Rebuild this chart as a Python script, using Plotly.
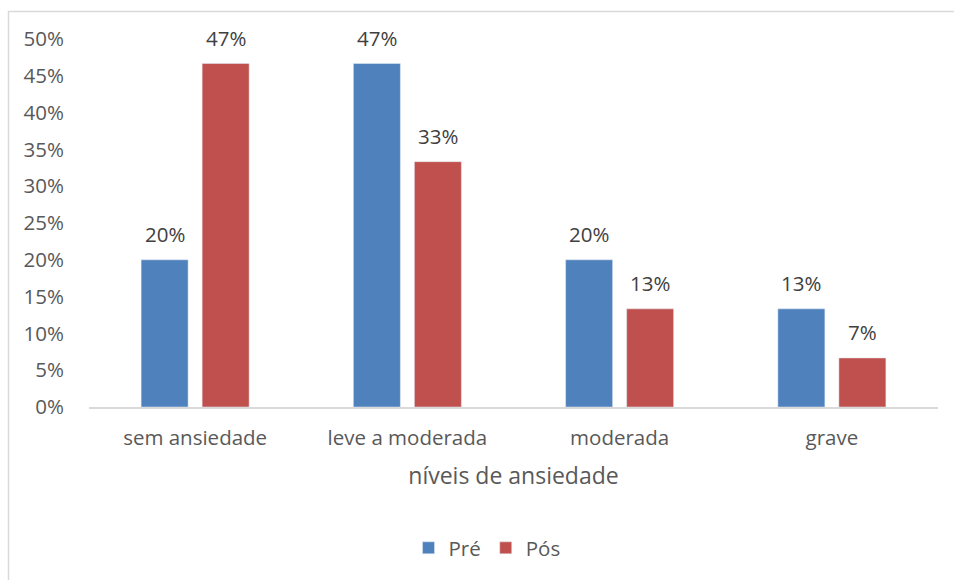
import plotly.graph_objects as go

categorias = ["sem ansiedade", "leve a moderada", "moderada", "grave"]
pre = [3 / 15, 7 / 15, 3 / 15, 2 / 15]
pos = [7 / 15, 5 / 15, 2 / 15, 1 / 15]
yticks = [0, 0.05, 0.10, 0.15, 0.20, 0.25, 0.30, 0.35, 0.40, 0.45, 0.50]

FONT = "Open Sans"
TXT = "#595959"
SZ = 20.5

fig = go.Figure()
fig.add_trace(go.Bar(name="Pré", x=categorias, y=pre, marker_color="#4F81BD"))
fig.add_trace(go.Bar(name="Pós", x=categorias, y=pos, marker_color="#C0504D"))

W, H = 954, 580
L, R, T, B = 89, 16, 39, 173
pw, ph = W - L - R, H - T - B

def px(xp):
    return (xp - L) / pw

def py(yp):
    return (H - B - yp) / ph

# value labels above each bar, offset to the bar's slot within its group
annotations = []
for vals, shift in ((pre, -30.5), (pos, 30.5)):
    for cat, v in zip(categorias, vals):
        annotations.append(dict(
            x=cat, y=v, xref="x", yref="y", text=f"{round(v * 100)}%",
            showarrow=False, xshift=shift, yshift=26, yanchor="middle",
            font=dict(size=SZ, color="#404040", family=FONT),
        ))

fig.update_layout(
    width=W, height=H,
    margin=dict(l=L, r=R, t=T, b=B),
    paper_bgcolor="white", plot_bgcolor="white",
    barmode="group", bargap=0.425, bargroupgap=0.23,
    font=dict(family=FONT, color=TXT, size=SZ),
    showlegend=True,
    legend=dict(orientation="h", x=px(487), xanchor="center", y=py(548), yanchor="middle",
                font=dict(size=SZ, color=TXT), itemwidth=30, traceorder="normal"),
    xaxis=dict(
        showgrid=False, showline=True, linecolor="#D9D9D9", linewidth=1.5,
        ticks="outside", ticklen=12, tickcolor="rgba(0,0,0,0)",
        tickfont=dict(size=SZ, color=TXT),
        title=dict(text="níveis de ansiedade", font=dict(size=23, color=TXT), standoff=18),
    ),
    yaxis=dict(
        range=[0, 0.5], tickvals=yticks, tickformat=".0%",
        showgrid=False, showline=False, zeroline=False,
        ticks="outside", ticklen=20, tickcolor="rgba(0,0,0,0)",
        tickfont=dict(size=SZ, color=TXT),
    ),
    annotations=annotations,
    shapes=[dict(type="rect", xref="paper", yref="paper",
                 x0=px(8.5), x1=px(W + 20), y0=py(H + 20), y1=py(11.5),
                 line=dict(color="#D9D9D9", width=1.5), fillcolor="rgba(0,0,0,0)",
                 layer="below")],
)

fig.write_html("out.html")
